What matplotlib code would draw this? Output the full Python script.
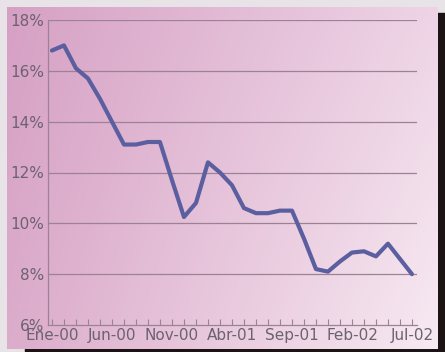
import numpy as np
import matplotlib
matplotlib.use("Agg")
import matplotlib.pyplot as plt
from matplotlib.patches import Rectangle

# monthly rate, Jan 2000 - Jul 2002
rate = [16.8, 17.0, 16.1, 15.7, 14.9, 14.0, 13.1, 13.1, 13.2, 13.2,
        11.7, 10.25, 10.8, 12.4, 12.0, 11.5, 10.6, 10.4, 10.4, 10.5,
        10.5, 9.4, 8.2, 8.1, 8.5, 8.85, 8.9, 8.7, 9.2, 8.6, 8.0]
tick_labels = ["Ene-00", "Jun-00", "Nov-00", "Abr-01", "Sep-01", "Feb-02", "Jul-02"]
y_ticks = [6, 8, 10, 12, 14, 16, 18]

months = np.arange(len(rate))
grid_col = "#9c8295"
text_col = "#6c6270"

fig = plt.figure(figsize=(4.45, 3.52), dpi=100)

# backdrop: grey margin, dark shadow, pink gradient panel
bg = fig.add_axes([0, 0, 1, 1], zorder=-2)
bg.axis("off")
bg.add_patch(Rectangle((0, 0), 445, 352, color="#e7e3e6", zorder=0))
bg.add_patch(Rectangle((25, 13), 420, 339, color="#1c1414", zorder=1))
gx = np.linspace(0, 1, 200)
gy = np.linspace(0, 1, 200)
X, Y = np.meshgrid(gx, gy)
left_top = np.array([214, 160, 196]) / 255
left_bot = np.array([220, 172, 203]) / 255
right_top = np.array([238, 212, 230]) / 255
right_bot = np.array([247, 234, 242]) / 255
grad = ((1 - X)[..., None] * ((1 - Y)[..., None] * left_top + Y[..., None] * left_bot)
        + X[..., None] * ((1 - Y)[..., None] * right_top + Y[..., None] * right_bot))
bg.imshow(grad, extent=(7, 438, 349, 7), aspect="auto", interpolation="bilinear",
          zorder=2)
bg.set_xlim(0, 445)
bg.set_ylim(352, 0)

ax = fig.add_axes([48 / 445, 1 - 325 / 352, 369 / 445, 305 / 352])
ax.set_facecolor("none")
ax.plot(months, rate, color="#5b5f9f", lw=3.0, solid_joinstyle="round",
        solid_capstyle="round", zorder=3)

ax.set_xlim(-0.33, 30.42)
ax.set_ylim(6, 18)
ax.set_yticks(y_ticks)
ax.set_yticklabels([f"{v}%" for v in y_ticks])
ax.set_xticks(months[::5])
ax.set_xticklabels(tick_labels)
ax.set_xticks(months, minor=True)

for v in y_ticks[1:]:
    ax.axhline(v, color=grid_col, lw=0.9, zorder=1)

for side in ["top", "right"]:
    ax.spines[side].set_visible(False)
for side in ["left", "bottom"]:
    ax.spines[side].set_color(grid_col)
    ax.spines[side].set_linewidth(0.9)

ax.tick_params(axis="x", which="both", direction="in", length=4, width=0.8,
               color=grid_col, pad=2, labelsize=11, labelcolor=text_col)
ax.tick_params(axis="y", length=0, pad=3, labelsize=11, labelcolor=text_col)

fig.savefig("out.png", dpi=100)
